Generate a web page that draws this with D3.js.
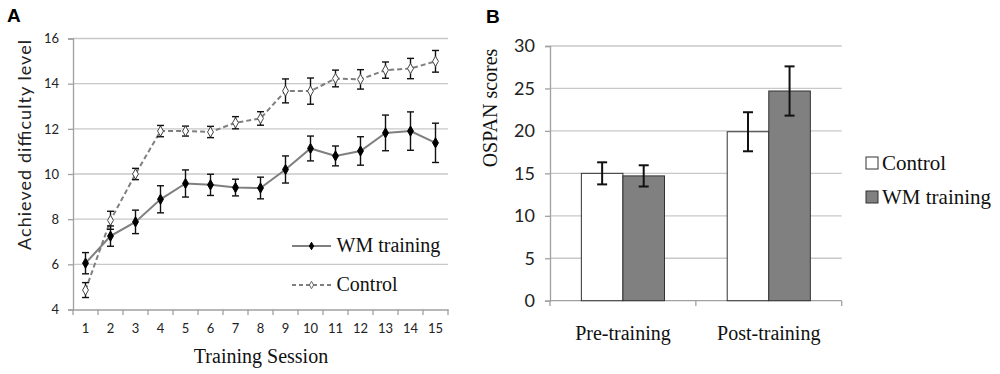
<!DOCTYPE html>
<html><head><meta charset="utf-8">
<script src="https://cdn.jsdelivr.net/npm/d3@7"></script>
<style>
body{margin:0;background:#fff;}
svg{display:block;}
</style></head><body>
<svg id="c" width="1000" height="374"></svg>
<script>
// ---- Panel A data ----
const sessions = [1,2,3,4,5,6,7,8,9,10,11,12,13,14,15];
const wmMean = [6.05,7.25,7.88,8.88,9.58,9.52,9.4,9.38,10.2,11.13,10.8,11.02,11.82,11.9,11.38];
const wmErr  = [0.47,0.45,0.52,0.6,0.6,0.47,0.37,0.48,0.6,0.55,0.44,0.63,0.79,0.85,0.87];
const ctMean = [4.86,7.95,10.0,11.9,11.9,11.86,12.27,12.46,13.68,13.67,14.23,14.19,14.6,14.67,14.99];
const ctErr  = [0.33,0.4,0.25,0.25,0.22,0.25,0.27,0.3,0.53,0.58,0.37,0.43,0.36,0.45,0.48];
const yTicksA = [4,6,8,10,12,14,16];
// ---- Panel B data ----
const phases = ["Pre-training","Post-training"];
const groups = ["Control","WM training"];
const controlScores = [15.0,19.9];
const controlErr = [1.3,2.3];
const wmScores = [14.7,24.7];
const wmScoreErr = [1.25,2.9];
const yTicksB = [0,5,10,15,20,25,30];

const SANS = "Lato, 'Open Sans', sans-serif";
const SERIF = "'Liberation Serif', 'Times New Roman', serif";
const svg = d3.select("#c");
const gridCol = "#c8c8c8", axisCol = "#a0a0a0";

function serifText(g){ return g.append("text").style("font-family",SERIF).attr("fill","#111"); }

// ================= Panel A =================
const xA = d3.scaleBand().domain(sessions).range([73,448]);
const yA = d3.scaleLinear().domain([4,16]).range([309.5,38.5]);
const gA = svg.append("g");
gA.append("text").attr("x",7).attr("y",22).text("A")
  .style("font-family","'Liberation Sans',Arial,sans-serif").style("font-weight","bold").style("font-size","19px");
gA.selectAll(".grid").data(yTicksA.filter(d=>d>4)).join("line")
  .attr("x1",73).attr("x2",448).attr("y1",d=>yA(d)).attr("y2",d=>yA(d))
  .attr("stroke",gridCol).attr("stroke-width",1.3);
const axYA = gA.append("g").attr("transform","translate(73,0)")
  .call(d3.axisLeft(yA).tickValues(yTicksA).tickSize(5).tickPadding(9));
axYA.select(".domain").attr("stroke",axisCol).attr("stroke-width",1.3);
axYA.selectAll(".tick line").attr("stroke",axisCol).attr("stroke-width",1.3);
axYA.selectAll("text").style("font-family",SANS).style("font-size","13px").attr("fill","#222");
const axXA = gA.append("g").attr("transform","translate(0,309.5)")
  .call(d3.axisBottom(xA).tickSize(0).tickPadding(14));
axXA.select(".domain").attr("stroke",axisCol).attr("stroke-width",1.3);
axXA.selectAll("text").style("font-family",SANS).style("font-size","13px").attr("fill","#222");
gA.selectAll(".xt").data(d3.range(16)).join("line")
  .attr("x1",d=>73+d*xA.step()).attr("x2",d=>73+d*xA.step())
  .attr("y1",309.5).attr("y2",315).attr("stroke",axisCol).attr("stroke-width",1.3);
gA.append("text").attr("transform","translate(31,145) rotate(-90)")
  .attr("text-anchor","middle").style("font-family",SANS).style("font-size","18px").attr("fill","#222")
  .attr("textLength",210).attr("lengthAdjust","spacing").text("Achieved difficulty level");
serifText(gA).attr("x",261).attr("y",363)
  .attr("text-anchor","middle").style("font-size","20px").text("Training Session");

const cx = d => xA(d)+xA.bandwidth()/2;
const diamond = d3.symbol().type(d3.symbolDiamond).size(30);
function series(mean, err, dashed, filled){
  const pts = sessions.map((s,i)=>({s, m:mean[i], e:err[i]}));
  gA.append("path").datum(pts).attr("fill","none").attr("stroke","#7f7f7f").attr("stroke-width",2)
    .attr("stroke-dasharray",dashed?"5,3":null)
    .attr("d", d3.line().x(d=>cx(d.s)).y(d=>yA(d.m)));
  const eb = gA.append("g");
  pts.forEach(p=>{
    const x=cx(p.s), y1=yA(p.m+p.e), y2=yA(p.m-p.e);
    eb.append("line").attr("x1",x).attr("x2",x).attr("y1",y1).attr("y2",y2).attr("stroke","#111").attr("stroke-width",1.4);
    [y1,y2].forEach(y=>eb.append("line").attr("x1",x-3.5).attr("x2",x+3.5).attr("y1",y).attr("y2",y).attr("stroke","#111").attr("stroke-width",1.4));
  });
  gA.append("g").selectAll("path").data(pts).join("path")
    .attr("transform",d=>`translate(${cx(d.s)},${yA(d.m)})`).attr("d",diamond)
    .attr("fill",filled?"#000":"#fff").attr("stroke",filled?"#000":"#444").attr("stroke-width",1);
}
series(ctMean, ctErr, true, false);
series(wmMean, wmErr, false, true);
const legA = [{name:"WM training",y:246,dashed:false,filled:true},{name:"Control",y:285,dashed:true,filled:false}];
legA.forEach(l=>{
  gA.append("line").attr("x1",292).attr("x2",331).attr("y1",l.y).attr("y2",l.y)
    .attr("stroke",l.filled?"#555":"#7f7f7f").attr("stroke-width",l.filled?1.5:2).attr("stroke-dasharray",l.dashed?"4,3":null);
  gA.append("path").attr("transform",`translate(311.5,${l.y})`).attr("d",d3.symbol().type(d3.symbolDiamond).size(16))
    .attr("fill",l.filled?"#000":"#fff").attr("stroke",l.filled?"#000":"#666");
  serifText(gA).attr("x",336.5).attr("y",l.y+6).style("font-size","20px").text(l.name);
});

// ================= Panel B =================
const gB = svg.append("g");
gB.append("text").attr("x",486).attr("y",23).text("B")
  .style("font-family","'Liberation Sans',Arial,sans-serif").style("font-weight","bold").style("font-size","19px");
const x0 = d3.scaleBand().domain(phases).range([550,841.7]).paddingInner(0.43).paddingOuter(0.215);
const x1 = d3.scaleBand().domain(groups).range([0,x0.bandwidth()]);
const yB = d3.scaleLinear().domain([0,30]).range([300.7,46]);
gB.selectAll(".grid").data(yTicksB.filter(d=>d>0)).join("line")
  .attr("x1",550).attr("x2",841.7).attr("y1",d=>yB(d)).attr("y2",d=>yB(d))
  .attr("stroke",gridCol).attr("stroke-width",1.3);
const axYB = gB.append("g").attr("transform","translate(550,0)")
  .call(d3.axisLeft(yB).tickValues(yTicksB).tickSize(5).tickPadding(10));
axYB.select(".domain").attr("stroke",axisCol).attr("stroke-width",1.3);
axYB.selectAll(".tick line").attr("stroke",axisCol).attr("stroke-width",1.3);
axYB.selectAll("text").style("font-family",SANS).style("font-size","18px").attr("fill","#222");
gB.append("line").attr("x1",550).attr("x2",841.7).attr("y1",300.7).attr("y2",300.7).attr("stroke",axisCol).attr("stroke-width",1.3);
[550, (550+841.7)/2, 841.7].forEach(x=>gB.append("line").attr("x1",x).attr("x2",x).attr("y1",300.7).attr("y2",306).attr("stroke",axisCol).attr("stroke-width",1.3));
gB.selectAll(".cat").data(phases).join("text").style("font-family",SERIF).attr("fill","#111")
  .attr("x",d=>x0(d)+x0.bandwidth()/2).attr("y",340).attr("text-anchor","middle").style("font-size","20px").text(d=>d);
serifText(gB).attr("transform","translate(497,108) rotate(-90)")
  .attr("text-anchor","middle").style("font-size","20px").text("OSPAN scores");

const barData = [];
phases.forEach((p,i)=>{
  barData.push({p,g:"Control",v:controlScores[i],e:controlErr[i]});
  barData.push({p,g:"WM training",v:wmScores[i],e:wmScoreErr[i]});
});
const fillB = {"Control":"#fff","WM training":"#808080"};
gB.selectAll(".bar").data(barData).join("rect")
  .attr("x",d=>x0(d.p)+x1(d.g)).attr("width",x1.bandwidth())
  .attr("y",d=>yB(d.v)).attr("height",d=>yB(0)-yB(d.v))
  .attr("fill",d=>fillB[d.g]).attr("stroke","#333").attr("stroke-width",1);
barData.forEach(d=>{
  const x = x0(d.p)+x1(d.g)+x1.bandwidth()/2, t=yB(d.v+d.e), b=yB(d.v-d.e);
  gB.append("line").attr("x1",x).attr("x2",x).attr("y1",t).attr("y2",b).attr("stroke","#111").attr("stroke-width",2);
  [t,b].forEach(y=>gB.append("line").attr("x1",x-5).attr("x2",x+5).attr("y1",y).attr("y2",y).attr("stroke","#111").attr("stroke-width",2));
});
groups.forEach((g,i)=>{
  const y = 163 + i*34;
  gB.append("rect").attr("x",866).attr("y",y-6).attr("width",12).attr("height",12)
    .attr("fill",fillB[g]).attr("stroke","#333").attr("stroke-width",1);
  serifText(gB).attr("x",882).attr("y",y+7).style("font-size","21px").text(g);
});
</script>
</body></html>
